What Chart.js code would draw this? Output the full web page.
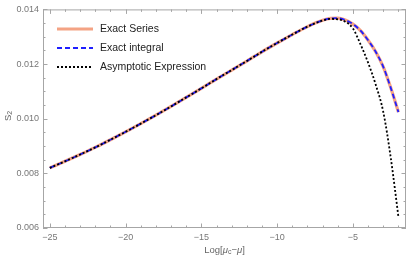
<!DOCTYPE html>
<html>
<head>
<meta charset="utf-8">
<script src="https://cdn.jsdelivr.net/npm/chart.js@4.4.0/dist/chart.umd.min.js"></script>
<style>
html,body{margin:0;padding:0;background:#fff;}
#wrap{width:407px;height:261px;position:relative;}
</style>
</head>
<body>
<div id="wrap"><canvas id="c" width="407" height="261"></canvas></div>
<script>
// ---- data ----
const seriesLabels = ["Exact Series", "Exact integral", "Asymptotic Expression"];
const xExact = [-25,-24,-23,-22,-21,-20,-19,-18,-17,-16,-15,-14,-13,-12,-11,-10,-9,-8,-7,-6.5,-6,-5.5,-5,-4.5,-4,-3.5,-3,-2.5,-2];
const yExact = [0.00820,0.00844,0.00869,0.00895,0.00923,0.00952,0.00982,0.01013,0.01045,0.01078,0.01111,0.01145,0.01178,0.01211,0.01245,0.01277,0.01308,0.01337,0.01360,0.01367,0.01368,0.01361,0.01346,0.01322,0.01287,0.01245,0.01190,0.01112,0.01024];
const xAsym = [-25,-24,-23,-22,-21,-20,-19,-18,-17,-16,-15,-14,-13,-12,-11,-10,-9,-8,-7,-6.5,-6,-5.5,-5,-4.5,-4,-3.5,-3,-2.5,-2];
const yAsym = [0.00820,0.00844,0.00869,0.00895,0.00923,0.00952,0.00982,0.01013,0.01045,0.01078,0.01111,0.01145,0.01178,0.01211,0.01245,0.01277,0.01308,0.01337,0.01359,0.01365,0.01364,0.01355,0.01330,0.01272,0.01205,0.01125,0.01025,0.00855,0.00641];
const xTicks = [-25,-20,-15,-10,-5];
const yTicks = [0.006,0.008,0.010,0.012,0.014];
const xMinorStep = 1;
const yMinorStep = 0.0005;

const toPts = (xs, ys) => xs.map((x, i) => ({x: x, y: ys[i]}));

const FONT = "'Liberation Sans', Arial, sans-serif";
const FRAME = '#a6a6a6';

const framePlugin = {
  id: 'frame',
  afterDraw(chart) {
    const ctx = chart.ctx, a = chart.chartArea;
    const xs = chart.scales.x, ys = chart.scales.y;
    ctx.save();
    ctx.strokeStyle = FRAME;
    ctx.lineWidth = 1;
    ctx.strokeRect(a.left + 0.5, a.top + 0.5, a.right - a.left - 1, a.bottom - a.top - 1);
    const xmaj = new Set(xTicks.map(v => v.toFixed(3)));
    for (let v = Math.ceil(xs.min); v <= xs.max; v += xMinorStep) {
      const px = Math.round(xs.getPixelForValue(v)) + 0.5;
      const len = xmaj.has(v.toFixed(3)) ? 4.5 : 2.5;
      ctx.beginPath();
      ctx.moveTo(px, a.bottom); ctx.lineTo(px, a.bottom - len);
      ctx.moveTo(px, a.top); ctx.lineTo(px, a.top + len);
      ctx.stroke();
    }
    const ymaj = new Set(yTicks.map(v => v.toFixed(4)));
    for (let k = 0; ; k++) {
      const v = ys.min + k * yMinorStep;
      if (v > ys.max + 1e-9) break;
      const py = Math.round(ys.getPixelForValue(v)) + 0.5;
      const len = ymaj.has(v.toFixed(4)) ? 4.5 : 2.5;
      ctx.beginPath();
      ctx.moveTo(a.left, py); ctx.lineTo(a.left + len, py);
      ctx.moveTo(a.right, py); ctx.lineTo(a.right - len, py);
      ctx.stroke();
    }
    // axis titles
    ctx.fillStyle = '#666';
    ctx.textBaseline = 'middle';
    const big = '9.5px ' + FONT, small = '7px ' + FONT;
    const ital = 'italic 9.5px ' + FONT;
    const parts = [['Log[', big, 0], ['μ', ital, 0], ['c', small, 2.5], ['−', big, 0], ['μ', ital, 0], [']', big, 0]];
    let w = 0;
    parts.forEach(p => { ctx.font = p[1]; w += ctx.measureText(p[0]).width; });
    let x0 = (a.left + a.right) / 2 - w / 2;
    const ty = 250;
    ctx.textAlign = 'left';
    parts.forEach(p => { ctx.font = p[1]; ctx.fillText(p[0], x0, ty + p[2]); x0 += ctx.measureText(p[0]).width; });
    // y title: S2 rotated
    ctx.save();
    ctx.translate(8, 116);
    ctx.rotate(-Math.PI / 2);
    ctx.font = big;
    const sw = ctx.measureText('S').width;
    ctx.font = small;
    const s2 = ctx.measureText('2').width;
    const tw = sw + s2;
    ctx.font = big;
    ctx.fillText('S', -tw / 2, 0);
    ctx.font = small;
    ctx.fillText('2', -tw / 2 + sw, 2.5);
    ctx.restore();
    // legend
    const items = chart.data.datasets;
    const rows = [29, 48, 67];
    items.forEach((ds, i) => {
      ctx.save();
      ctx.strokeStyle = ds.borderColor;
      ctx.lineWidth = ds.borderWidth;
      ctx.setLineDash(ds.borderDash || []);
      ctx.beginPath();
      ctx.moveTo(57, rows[i]); ctx.lineTo(93, rows[i]);
      ctx.stroke();
      ctx.restore();
      ctx.fillStyle = '#222';
      ctx.font = '10.5px ' + FONT;
      ctx.textAlign = 'left';
      ctx.fillText(ds.label, 100, rows[i] + 0.5);
    });
    ctx.restore();
  }
};

new Chart(document.getElementById('c'), {
  type: 'scatter',
  data: {
    datasets: [
      {label: seriesLabels[0], data: toPts(xExact, yExact), showLine: true, borderColor: '#f4a384', borderWidth: 3.2, pointRadius: 0, cubicInterpolationMode: 'monotone', order: 3},
      {label: seriesLabels[1], data: toPts(xExact, yExact), showLine: true, borderColor: '#1f1fff', borderWidth: 1.8, borderDash: [5, 3], pointRadius: 0, cubicInterpolationMode: 'monotone', order: 2},
      {label: seriesLabels[2], data: toPts(xAsym, yAsym), showLine: true, borderColor: '#000000', borderWidth: 1.8, borderDash: [2, 2], pointRadius: 0, cubicInterpolationMode: 'monotone', order: 1}
    ]
  },
  options: {
    responsive: false,
    animation: false,
    layout: {padding: {top: 6, right: 1, left: 0, bottom: 0}},
    plugins: {legend: {display: false}, tooltip: {enabled: false}},
    scales: {
      x: {
        type: 'linear', min: -25.45, max: -1.5,
        grid: {display: false, drawTicks: false},
        border: {display: false},
        afterBuildTicks: s => { s.ticks = xTicks.map(v => ({value: v})); },
        afterFit: s => { s.height = 33; },
        ticks: {color: '#777', font: {family: FONT, size: 9}, padding: 4,
                callback: v => String(v).replace('-', '−')}
      },
      y: {
        type: 'linear', min: 0.006, max: 0.014,
        grid: {display: false, drawTicks: false},
        border: {display: false},
        afterBuildTicks: s => { s.ticks = yTicks.map(v => ({value: v})); },
        afterFit: s => { s.width = 43; },
        ticks: {color: '#777', font: {family: FONT, size: 9}, padding: 4,
                callback: v => Number(v).toFixed(3)}
      }
    }
  },
  plugins: [framePlugin]
});
</script>
</body>
</html>
